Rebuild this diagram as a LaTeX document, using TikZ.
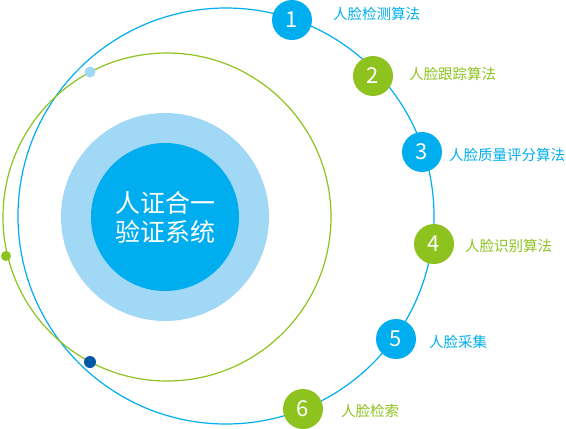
\documentclass[tikz,border=0pt]{standalone}
\usepackage{fontspec}
\setmainfont{Noto Sans CJK SC}
\definecolor{cblue}{HTML}{00AEEF}
\definecolor{lblue}{HTML}{A0D8F5}
\definecolor{cgreen}{HTML}{8DC21F}
\definecolor{dblue}{HTML}{0057A8}
\begin{document}
\begin{tikzpicture}[x=1pt,y=-1pt,
  numb/.style={circle,minimum size=40pt,inner sep=0pt,text=white,font=\fontsize{22}{22}\selectfont},
  lab/.style={anchor=west,inner sep=0pt,font=\fontsize{14.5}{16}\selectfont},
  dotn/.style={circle,inner sep=0pt}]
\useasboundingbox (0,0) rectangle (566,429);
\fill[lblue] (165,217) circle[radius=104pt];
\node[circle,fill=cblue,minimum size=148pt,inner sep=0pt,text=white,align=center,font=\fontsize{25}{29}\selectfont] (core) at (165,217) {人证合一\\验证系统};
\coordinate (bc) at (226,216);
\coordinate (gc) at (167,217);
\draw[cblue,line width=1.2pt] (bc) circle[radius=208pt];
\draw[cgreen,line width=1.2pt] (gc) circle[radius=164pt];
\node[dotn,fill=lblue,minimum size=11pt] (d1) at (90,72) {};
\node[dotn,fill=cgreen,minimum size=10pt] (d2) at (6,256) {};
\node[dotn,fill=dblue,minimum size=12pt] (d3) at (90,362) {};
\node[numb,fill=cblue] (n1) at (292,20) {1};
\node[numb,fill=cgreen] (n2) at (373,76) {2};
\node[numb,fill=cblue] (n3) at (422,152) {3};
\node[numb,fill=cgreen] (n4) at (434,244) {4};
\node[numb,fill=cblue] (n5) at (396,339) {5};
\node[numb,fill=cgreen] (n6) at (303,409) {6};
\node[lab,text=cblue] (l1) at (333,14) {人脸检测算法};
\node[lab,text=cgreen] (l2) at (409,74) {人脸跟踪算法};
\node[lab,text=cblue] (l3) at (449,155) {人脸质量评分算法};
\node[lab,text=cgreen] (l4) at (465,246) {人脸识别算法};
\node[lab,text=cblue] (l5) at (429,342) {人脸采集};
\node[lab,text=cgreen] (l6) at (341,411) {人脸检索};
\end{tikzpicture}
\end{document}
